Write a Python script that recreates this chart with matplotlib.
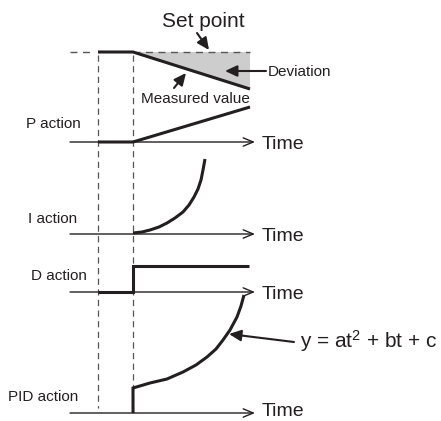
import matplotlib.pyplot as plt

plt.rcParams['font.family'] = ['Liberation Sans', 'DejaVu Sans']
plt.rcParams['mathtext.fontset'] = 'custom'
plt.rcParams['mathtext.rm'] = 'Liberation Sans'
plt.rcParams['mathtext.it'] = 'Liberation Sans'

INK = '#231f20'

# time marks (disturbance, step of the controller)
t_start = 98
t_step = 133
axis_x0, axis_x1 = 70, 255

# set point / measured value
setpoint_y = 52
measured_x = [98, 133, 250]
measured_y = [52, 52, 89]

# baselines of each action trace
axis_y = {'P action': 142, 'I action': 234, 'D action': 292, 'PID action': 413}

p_x = [98, 133, 250]
p_y = [142, 142, 107]

i_x = [133, 142, 150, 159, 167, 175, 183, 189, 194, 198, 201, 203, 205]
i_y = [233, 232, 230, 227, 223, 218, 212, 205, 197, 189, 180, 170, 159]

d_x = [98, 133, 133, 249]
d_y = [292, 292, 266, 266]

pid_x = [133, 133, 150, 167, 183, 196, 207, 216, 223, 230, 237, 241, 244]
pid_y = [413, 388, 383, 379, 372, 365, 357, 349, 340, 330, 317, 306, 295]

fig = plt.figure(figsize=(4.41, 4.21), dpi=100)
ax = fig.add_axes([0, 0, 1, 1])
ax.set_xlim(0, 441)
ax.set_ylim(421, 0)
ax.axis('off')

# deviation area
ax.fill([measured_x[1], measured_x[2], measured_x[2]],
        [setpoint_y, setpoint_y, measured_y[2]], color='#cdcdcd', lw=0)

# set point dashed line
ax.plot([axis_x0, 90], [setpoint_y, setpoint_y], color='#555555', lw=1, dashes=(5, 4))
ax.plot([t_step, 250], [setpoint_y, setpoint_y], color='#555555', lw=1, dashes=(5, 4))

# vertical dashed time marks
ax.plot([t_start, t_start], [setpoint_y + 3, 408], color='#555555', lw=0.9, dashes=(5, 3.5))
ax.plot([t_step, t_step], [setpoint_y + 3, 413], color='#555555', lw=0.9, dashes=(5, 3.5))

# time axes
for name, y in axis_y.items():
    ax.annotate('', xy=(axis_x1, y), xytext=(axis_x0, y),
                arrowprops=dict(arrowstyle='->,head_length=0.6,head_width=0.25',
                                color=INK, lw=1, mutation_scale=12,
                                shrinkA=0, shrinkB=0))
    ax.text(262, min(y + 7, 416), 'Time', fontsize=14, color=INK, va='baseline', ha='left')

ax.text(26, 128, 'P action', fontsize=11, color=INK, va='baseline')
ax.text(28, 223, 'I action', fontsize=11, color=INK, va='baseline')
ax.text(31, 280, 'D action', fontsize=11, color=INK, va='baseline')
ax.text(8, 401, 'PID action', fontsize=11, color=INK, va='baseline')

# signals
sig = dict(color=INK, lw=2.2, solid_capstyle='butt', solid_joinstyle='miter')
ax.plot(measured_x, measured_y, **sig)
ax.plot(p_x, p_y, **sig)
ax.plot(i_x, i_y, **sig)
ax.plot(d_x, d_y, **sig)
ax.plot(pid_x, pid_y, **sig)

# annotations
arr = dict(arrowstyle='-|>,head_length=0.6,head_width=0.28', color=INK, lw=1.5,
           mutation_scale=12, shrinkA=0, shrinkB=0)
ax.text(162, 27, 'Set point', fontsize=15, color=INK, va='baseline')
ax.annotate('', xy=(209, 50), xytext=(197, 33), arrowprops=arr)

ax.text(268, 76, 'Deviation', fontsize=11, color=INK, va='baseline')
ax.annotate('', xy=(225, 71), xytext=(266, 71), arrowprops=arr)

ax.text(141, 103, 'Measured value', fontsize=11, color=INK, va='baseline')
ax.annotate('', xy=(186, 73), xytext=(174, 88), arrowprops=arr)

ax.text(300, 348, 'y = at$^2$ + bt + c', fontsize=15, color=INK, va='baseline')
ax.annotate('', xy=(229, 334), xytext=(294, 342), arrowprops=arr)

fig.savefig('out.png', dpi=100)
